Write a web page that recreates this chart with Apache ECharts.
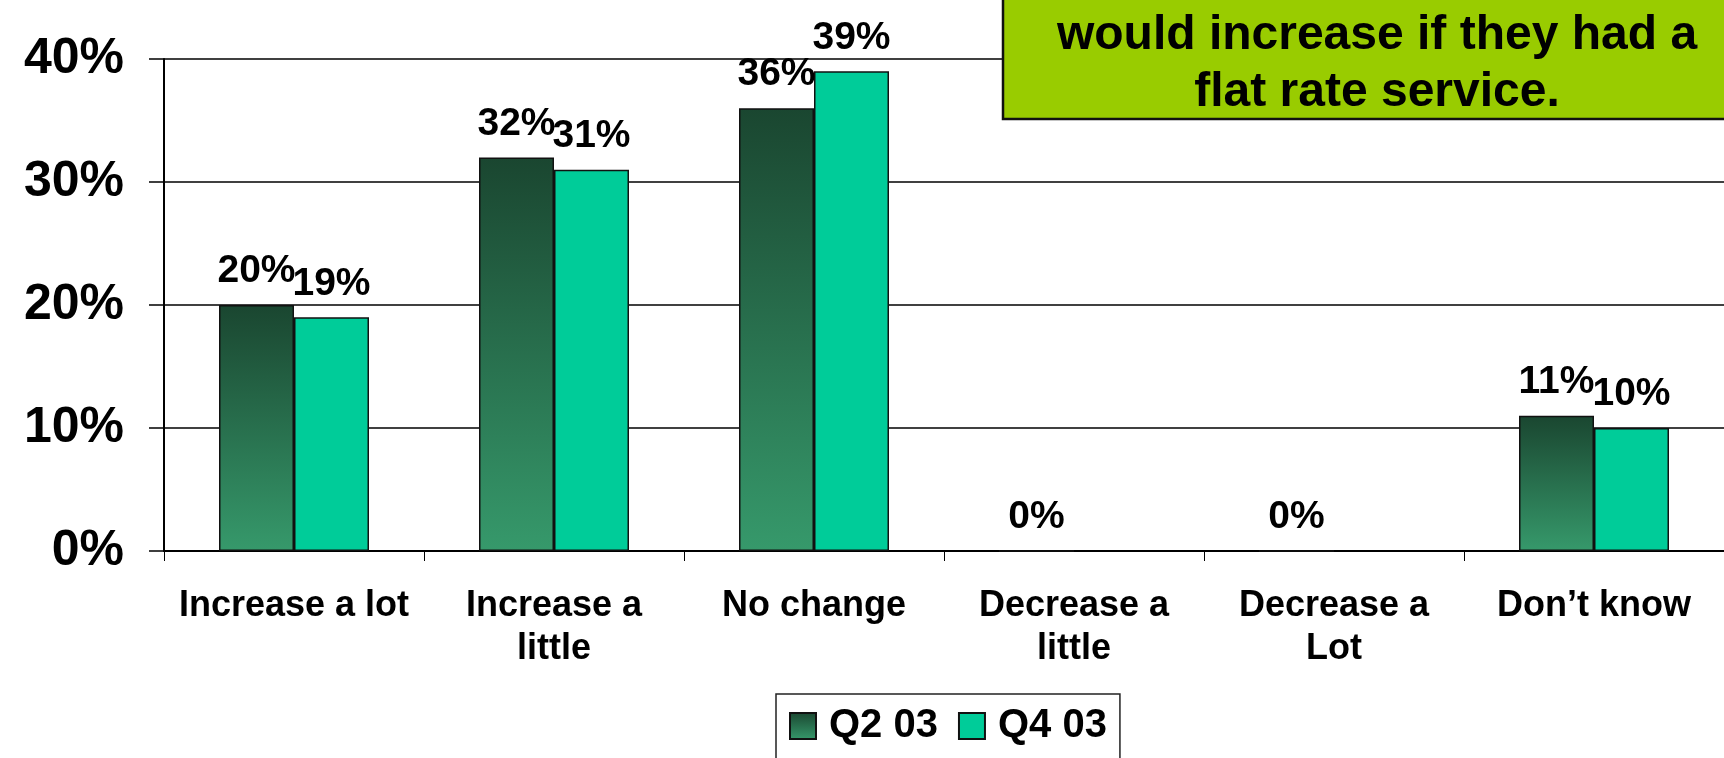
<!DOCTYPE html>
<html>
<head>
<meta charset="utf-8">
<script src="https://cdn.jsdelivr.net/npm/echarts@6/dist/echarts.min.js"></script>
<style>
  html, body { margin: 0; padding: 0; background: #fff; }
  #chart { width: 1724px; height: 758px; }
</style>
</head>
<body>
<div id="chart"></div>
<script>
// Survey answers: expected change in usage with a flat rate service
const categories = ['Increase a lot', 'Increase a\nlittle', 'No change', 'Decrease a\nlittle', 'Decrease a\nLot', 'Don\u2019t know'];
const seriesNames = ['Q2 03', 'Q4 03'];
const q2Values = [20, 32, 36, 0, 0, 11];
const q4Values = [19, 31, 39, null, null, 10];
const yTicks = [0, 10, 20, 30, 40];
const boxLines = ['would increase if they had a', 'flat rate service.'];

const FONT = '"Liberation Sans", Arial, sans-serif';

const chart = echarts.init(document.getElementById('chart'), null, { renderer: 'canvas' });

const q2Fill = new echarts.graphic.LinearGradient(0, 0, 0, 1, [
  { offset: 0, color: '#1a4630' },
  { offset: 1, color: '#36996b' }
]);

const valueLabel = {
  show: true,
  position: 'top',
  distance: 14,
  formatter: p => (p.value === null || p.value === undefined) ? '' : p.value + '%',
  color: '#000',
  fontFamily: FONT,
  fontWeight: 'bold',
  fontSize: 39
};

chart.setOption({
  animation: false,
  backgroundColor: '#fff',
  grid: { left: 164, top: 59, width: 1565, height: 492, containLabel: false },
  xAxis: {
    type: 'category',
    data: categories,
    axisLine: { show: true, lineStyle: { color: '#000', width: 2 } },
    axisTick: { show: true, length: 10, lineStyle: { color: '#000', width: 1 } },
    axisLabel: {
      margin: 34,
      color: '#000',
      fontFamily: FONT,
      fontWeight: 'bold',
      fontSize: 36,
      lineHeight: 43,
      interval: 0
    }
  },
  yAxis: {
    type: 'value',
    min: yTicks[0],
    max: yTicks[yTicks.length - 1],
    interval: 10,
    axisLine: { show: true, lineStyle: { color: '#000', width: 2 } },
    axisTick: { show: true, length: 15, lineStyle: { color: '#000', width: 1.5 } },
    splitLine: { show: true, lineStyle: { color: '#000', width: 1.5 } },
    axisLabel: {
      margin: 40,
      color: '#000',
      fontFamily: FONT,
      fontWeight: 'bold',
      fontSize: 50,
      formatter: '{value}%'
    }
  },
  legend: {
    left: 776,
    top: 694,
    orient: 'horizontal',
    padding: [12, 13, 30, 13],
    itemGap: 20,
    itemWidth: 26,
    itemHeight: 26,
    borderColor: '#222',
    borderWidth: 1.5,
    backgroundColor: '#fff',
    icon: 'rect',
    textStyle: {
      color: '#000',
      fontFamily: FONT,
      fontWeight: 'bold',
      fontSize: 40,
      padding: [0, 0, 0, 8]
    },
    data: seriesNames
  },
  series: [
    {
      name: seriesNames[0],
      type: 'bar',
      data: q2Values,
      barWidth: 75,
      barGap: '0%',
      itemStyle: { color: q2Fill, borderColor: '#111', borderWidth: 1.5 },
      label: valueLabel
    },
    {
      name: seriesNames[1],
      type: 'bar',
      data: q4Values,
      barWidth: 75,
      barGap: '0%',
      itemStyle: { color: '#00cc99', borderColor: '#111', borderWidth: 1.5 },
      label: valueLabel
    }
  ],
  graphic: [
    {
      type: 'rect',
      z: 100,
      shape: { x: 1003, y: -10, width: 780, height: 129 },
      style: { fill: '#99cc00', stroke: '#111', lineWidth: 2.5 }
    },
    {
      type: 'text',
      z: 101,
      x: 1377,
      y: 36,
      style: {
        text: boxLines[0],
        fill: '#000',
        font: 'bold 48px ' + FONT,
        textAlign: 'center',
        textVerticalAlign: 'middle'
      }
    },
    {
      type: 'text',
      z: 101,
      x: 1377,
      y: 93,
      style: {
        text: boxLines[1],
        fill: '#000',
        font: 'bold 48px ' + FONT,
        textAlign: 'center',
        textVerticalAlign: 'middle'
      }
    }
  ]
});
</script>
</body>
</html>
